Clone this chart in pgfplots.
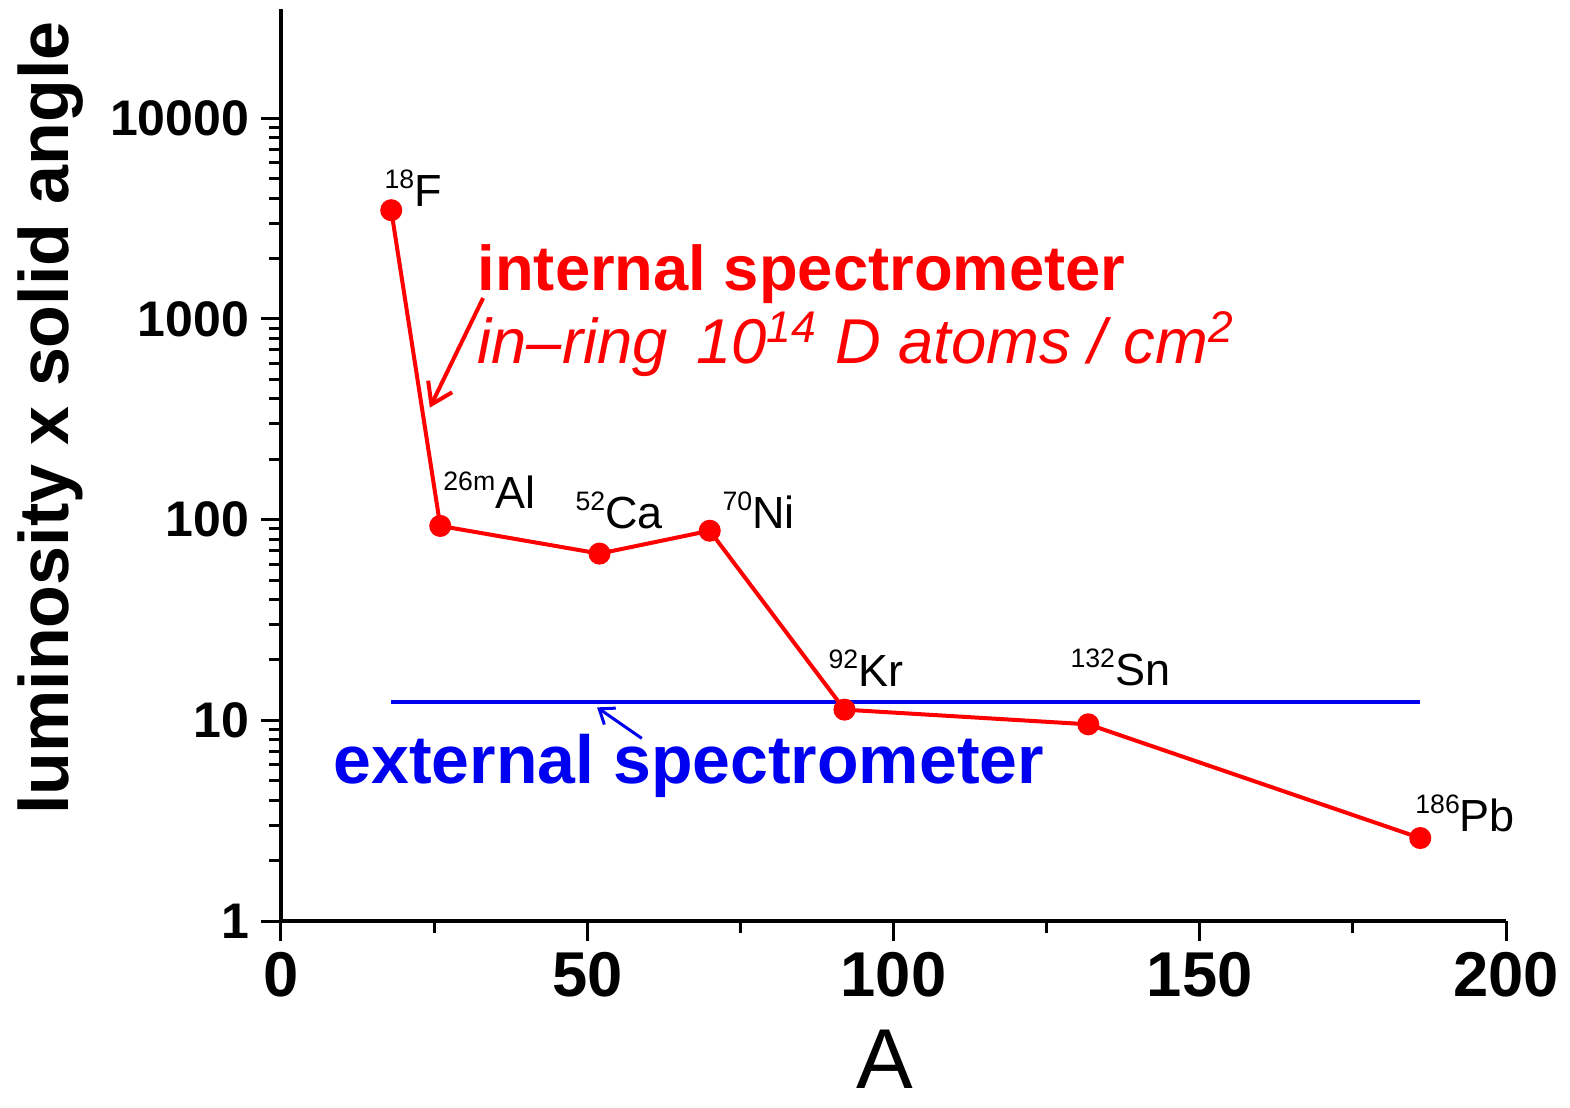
\documentclass[border=0pt]{standalone}
\usepackage{pgfplots}
\pgfplotsset{compat=1.18}
\usepackage{fontspec}
\setmainfont{Liberation Sans}
\usetikzlibrary{arrows.meta}
\definecolor{myred}{RGB}{255,0,0}
\definecolor{myblue}{RGB}{0,0,240}
\newcommand{\iso}[2]{\raisebox{0.75ex}{\fontsize{8}{9}\selectfont #1}#2}
\begin{document}
\begin{tikzpicture}
\useasboundingbox (-84.3pt,-55.8pt) rectangle (386.7pt,276.3pt);
\begin{axis}[
  at={(0,0)}, anchor=south west,
  scale only axis, width=367.5pt, height=273.6pt,
  ymode=log, xmin=0, xmax=200, ymin=1, ymax=35000,
  axis x line=bottom, axis y line=left,
  axis line style={-, line width=1.2pt},
  xtick={0,50,100,150,200}, minor x tick num=1,
  ytick={1,10,100,1000,10000}, yticklabels={1,10,100,1000,10000},
  tick align=outside, major tick length=6pt, minor tick length=3.6pt,
  every tick/.style={black, line width=0.9pt},
  /pgf/number format/assume math mode=true,
  xticklabel style={font=\fontsize{19}{20}\selectfont\bfseries},
  yticklabel style={font=\fontsize{15}{16}\selectfont\bfseries},
  xlabel={A},
  xlabel style={at={(axis description cs:0.493,-0.152)}, anchor=center, inner sep=0pt, font=\fontsize{25.5}{28}\selectfont},
  ylabel={luminosity x solid angle},
  ylabel style={at={(axis description cs:-0.188,0.5515)}, anchor=center, font=\fontsize{21}{24}\selectfont\bfseries},
  clip=false,
]
\addplot[myblue, line width=1.1pt] coordinates {(18,12.3) (186,12.3)};
\addplot[myred, line width=1.2pt, mark=*, mark size=2.7pt, mark options={fill=myred, draw=myred}] coordinates {
  (18,3480) (26,93) (52,67.7) (70,88) (92,11.3) (131.8,9.55) (186,2.59)
};
\begin{scope}[every node/.style={inner sep=0pt, anchor=base west, font=\fontsize{13.5}{15}\selectfont}]
\node at (axis cs:16.8,3650) {\iso{18}{F}};
\node at (axis cs:26.4,113.5) {\iso{26m}{Al}};
\node at (axis cs:48.0,90.2) {\iso{52}{Ca}};
\node at (axis cs:72.0,90.2) {\iso{70}{Ni}};
\node at (axis cs:89.3,14.76) {\iso{92}{Kr}};
\node at (axis cs:128.8,14.9) {\iso{132}{Sn}};
\node at (axis cs:185.1,2.80) {\iso{186}{Pb}};
\end{scope}
\node[inner sep=0pt, anchor=base west, text=myred, font=\fontsize{19}{22}\selectfont\bfseries] at (axis cs:32.0,1378) {internal spectrometer};
\node[inner sep=0pt, anchor=base west, text=myred, font=\fontsize{19}{22}\selectfont\itshape] at (axis cs:32.0,597) {in--ring\hspace{0.45em}10\textsuperscript{14} D atoms / cm\textsuperscript{2}};
\node[inner sep=0pt, anchor=base west, text=myblue, font=\fontsize{20.4}{24}\selectfont\bfseries] at (axis cs:8.5,4.86) {external spectrometer};
\draw[myred, line width=1.2pt, -{Straight Barb[length=6pt,width=8pt]}] (axis cs:33.0,1271) -- (axis cs:24.3,361);
\draw[myblue, line width=0.9pt, -{Straight Barb[length=4pt,width=6pt]}] (axis cs:58.9,8.13) -- (axis cs:51.6,11.6);
\end{axis}
\end{tikzpicture}
\end{document}
